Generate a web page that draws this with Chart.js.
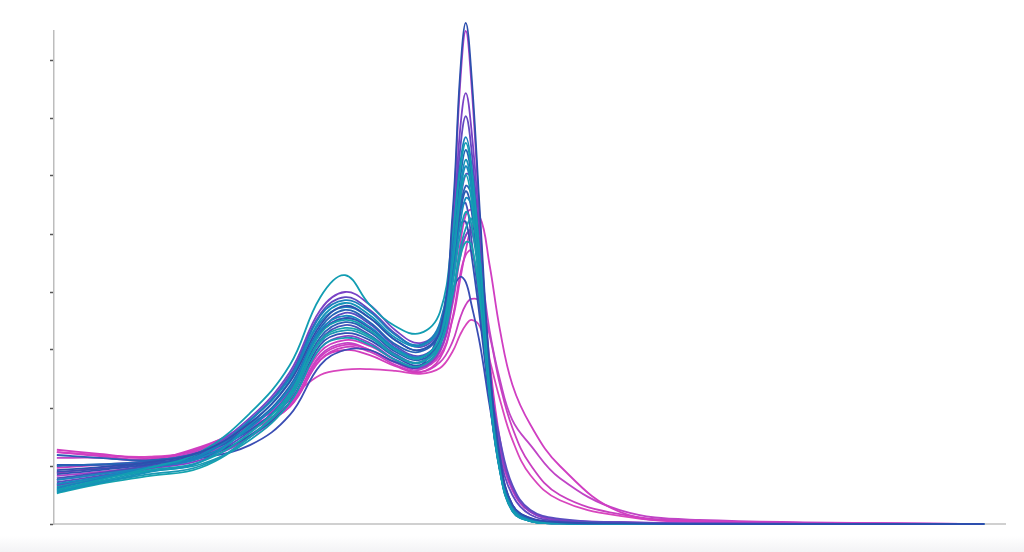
<!DOCTYPE html>
<html>
<head>
<meta charset="utf-8">
<script src="https://cdn.jsdelivr.net/npm/chart.js@4"></script>
<style>
  html, body { margin: 0; padding: 0; }
  body {
    width: 1024px; height: 552px; overflow: hidden;
    background: linear-gradient(to bottom, #ffffff 0px, #ffffff 536px, #f3f3f5 552px);
  }
  #wrap { position: relative; width: 1024px; height: 552px; }
</style>
</head>
<body>
<div id="wrap"><canvas id="myChart"></canvas></div>
<script>
    // shared x positions of the samples
    const xs = [0.3, 4.8, 10.1, 15.4, 20.6, 24.8, 28.0, 30.6, 33.2, 35.9, 38.5, 40.6, 41.9, 42.7, 43.3, 43.9, 44.8, 45.8, 46.9, 48.2, 50.1, 53.2, 59.5, 67.9, 97.8];

    // one array per curve
    const sA  = [9.3,9.8,10.7,12.4,17.4,24.5,34.3,37.6,35.5,31.7,30.0,33.4,53.3,77.4,86.4,77.4,53.3,27.4,11.4,3.3,1.0,0.3,0.1,0,0];
    const sB  = [8.3,9.0,10.0,11.7,16.6,23.1,32.9,35.5,33.8,30.3,28.8,32.1,51.6,75.7,85.0,75.7,51.6,26.2,10.7,2.9,0.9,0.3,0.1,0,0];
    const sC  = [7.6,8.6,10.2,12.4,18.3,26.2,36.9,40.0,37.8,33.4,31.2,34.3,49.8,67.9,74.3,67.9,49.8,26.6,11.0,3.3,1.0,0.3,0.1,0,0];
    const sD  = [6.7,8.1,9.8,11.9,17.9,25.7,36.2,39.1,36.9,32.8,30.5,33.8,48.1,64.5,70.3,64.5,47.2,25.7,11.9,5.0,1.6,0.5,0.2,0,0];
    const sE  = [6.2,7.8,9.7,11.7,17.8,25.3,35.9,38.6,36.6,32.6,30.9,34.8,49.0,61.9,66.7,61.9,45.5,24.0,9.7,2.6,0.7,0.2,0,0,0];
    const sF  = [5.9,7.6,9.7,12.4,19.1,27.4,39.1,42.9,37.8,34.1,32.9,36.6,49.8,61.0,65.7,61.0,45.2,24.0,9.3,2.4,0.5,0.2,0,0,0];
    const sG  = [10.0,10.3,10.9,12.4,16.9,23.8,33.8,36.9,34.8,31.0,29.7,33.1,46.4,59.3,64.5,59.7,44.7,24.0,9.8,2.8,0.7,0.2,0,0,0];
    const sH  = [5.5,7.1,9.0,10.7,17.1,24.8,35.2,38.1,36.0,32.1,30.7,34.1,46.4,57.6,62.8,58.4,43.4,23.1,9.3,2.6,0.7,0.2,0,0,0];
    const sI  = [7.2,8.3,9.7,11.4,16.0,22.8,33.1,36.4,34.5,30.7,29.0,32.1,42.9,55.0,60.3,59.7,45.5,24.8,14.5,6.7,2.4,0.9,0.3,0.1,0];
    const sJ  = [6.4,7.8,9.3,10.7,15.7,22.6,32.8,35.2,33.4,30.0,28.6,32.4,44.7,55.9,60.2,55.9,42.1,22.2,9.0,2.2,0.5,0.1,0,0,0];
    const sK  = [11.9,11.4,11.0,12.4,16.2,22.4,32.2,34.8,33.1,29.7,28.3,31.4,42.1,53.8,58.3,56.7,43.8,24.0,10.0,2.8,0.7,0.2,0,0,0];
    const sL  = [6.9,8.1,9.8,11.4,16.6,23.4,33.4,35.9,34.0,30.3,28.8,32.2,42.1,51.6,56.2,55.0,42.1,22.8,9.3,2.4,0.5,0.1,0,0,0];
    const sM  = [7.9,8.8,10.0,11.4,15.3,21.7,31.7,34.3,32.6,29.3,27.9,31.7,45.2,54.1,55.3,49.0,36.9,22.2,9.7,2.6,0.7,0.2,0,0,0];
    const sN  = [12.8,12.1,11.4,13.1,17.4,21.4,29.7,31.7,30.7,28.3,27.1,30.0,38.6,48.1,53.3,54.1,45.5,28.3,14.5,5.9,2.1,0.7,0.2,0,0];
    const sO  = [12.4,11.7,11.2,13.3,16.9,20.5,28.8,30.9,30.0,27.9,26.9,29.1,35.2,42.1,47.2,51.0,52.8,44.7,33.4,24.0,17.1,10.0,2.1,0.5,0];
    const sP  = [11.4,11.4,11.0,12.8,16.6,20.7,29.1,31.2,30.0,27.8,26.6,29.7,37.8,45.9,49.7,50.7,44.7,33.4,24.8,17.9,13.6,7.9,2.4,0.7,0];
    const sQ  = [5.7,7.2,8.6,10.0,15.0,21.7,31.4,33.4,32.1,29.0,27.8,31.0,39.5,47.2,51.0,52.6,45.5,25.7,10.7,2.9,0.7,0.2,0,0,0];
    const sR  = [8.6,9.3,10.3,11.7,15.2,21.0,30.9,32.9,31.7,28.8,27.4,30.9,43.8,51.6,52.1,46.4,35.2,21.4,9.3,2.4,0.5,0.1,0,0,0];
    const sS  = [6.6,7.8,9.5,11.0,15.0,21.0,30.3,32.4,31.2,28.3,26.9,30.0,38.6,46.4,49.8,50.5,42.9,25.7,13.6,6.2,2.1,0.7,0.3,0.1,0];
    const sT  = [5.3,6.9,8.3,9.7,15.0,22.1,31.6,33.8,32.4,29.1,27.9,31.2,39.5,45.9,48.6,48.1,38.6,22.2,9.3,2.4,0.5,0.1,0,0,0];
    const sU  = [8.8,9.7,10.7,12.4,16.2,20.3,28.3,30.0,29.1,27.2,26.2,28.6,35.5,42.9,46.4,47.1,40.3,24.8,12.8,5.9,2.1,0.7,0.3,0,0];
    const sV  = [9.0,9.5,10.5,11.4,13.6,18.8,27.4,30.0,30.0,27.9,27.2,33.4,40.3,42.6,41.7,37.8,30.9,20.5,10.2,3.3,0.9,0.2,0,0,0];
    const sW  = [9.7,10.2,10.9,12.6,16.6,20.2,28.3,30.5,29.7,27.4,26.2,27.9,31.4,35.5,37.8,38.8,38.3,32.6,24.0,16.6,10.2,5.0,1.7,0.5,0];
    const sX  = [12.4,11.9,11.6,12.9,17.1,21.7,25.7,26.6,26.7,26.4,25.9,26.9,29.7,32.6,34.3,35.2,34.0,28.3,21.4,14.5,8.4,4.1,1.4,0.3,0];
    const sY  = [7.6,8.6,9.8,11.9,17.9,25.2,34.8,37.4,35.5,31.7,30.0,33.4,45.2,56.7,61.7,57.6,42.9,23.1,9.3,2.4,0.5,0.1,0,0,0];
    const sZ  = [10.2,10.2,10.5,12.1,16.7,23.4,32.9,35.5,33.8,30.2,28.6,31.9,43.4,53.3,57.4,54.1,40.3,21.7,9.0,2.2,0.5,0.1,0,0,0];
    const sAA = [6.0,7.4,9.1,10.3,14.5,20.9,30.3,32.1,30.9,28.3,27.2,30.7,41.2,49.8,53.8,51.6,40.3,22.8,9.7,2.6,0.7,0.2,0,0,0];

    // y tick values (no labels shown)
    const yTicks = [0, 10, 20, 30, 40, 50, 60, 70, 80];

    // first one is drawn on top
    const curves = [sA, sF, sE, sH, sJ, sQ, sT, sAA, sL, sY, sG, sK, sZ, sR, sM, sV, sI, sD, sC, sS, sB, sN, sO, sP, sU, sW, sX];
    const colors = [
        '#2d4fae', '#129db2', '#1b7fbc', '#1593b8', '#13a0b0', '#1a98b4', '#15a3ae', '#179bb2', '#1689be',
        '#1c86bd', '#2565b6', '#2a5fb4', '#2a58b2', '#3050b2', '#4651b8', '#3a4db4', '#5a4cc0', '#6248c0',
        '#7a42c6', '#8a40c6', '#b040c8', '#cf3cbf', '#d03ec2', '#c044c6', '#d23dbd', '#c93fc0', '#d845bd'
    ];

    const datasets = curves.map((s, i) => ({
        data: xs.map((x, j) => ({ x: x, y: s[j] })),
        borderColor: colors[i],
        backgroundColor: colors[i],
        borderWidth: 1.8,
        pointRadius: 0,
        fill: false,
        clip: false,
        tension: 0.4
    }));

    const config = {
        type: 'line',
        data: { datasets: datasets },
        options: {
            responsive: false,
            animation: false,
            events: [],
            layout: { padding: { left: 50, right: 19, top: 31, bottom: 28 } },
            plugins: { legend: { display: false }, tooltip: { enabled: false } },
            scales: {
                x: {
                    type: 'linear', min: 0, max: 100,
                    ticks: { display: false },
                    grid: { display: false, drawTicks: false },
                    border: { display: true, color: '#d0d0d0', width: 2 }
                },
                y: {
                    min: 0, max: 85,
                    afterBuildTicks: (scale) => {
                        scale.ticks = yTicks.map(v => ({ value: v }));
                    },
                    ticks: { display: false },
                    grid: { drawOnChartArea: false, drawTicks: true, tickLength: 4, tickColor: '#555', tickWidth: 1.5 },
                    border: { display: true, color: '#bdbdbd', width: 1.5 }
                }
            }
        }
    };

    const canvas = document.getElementById('myChart');
    canvas.width = 1024;
    canvas.height = 552;
    const myChart = new Chart(canvas, config);
</script>
</body>
</html>
